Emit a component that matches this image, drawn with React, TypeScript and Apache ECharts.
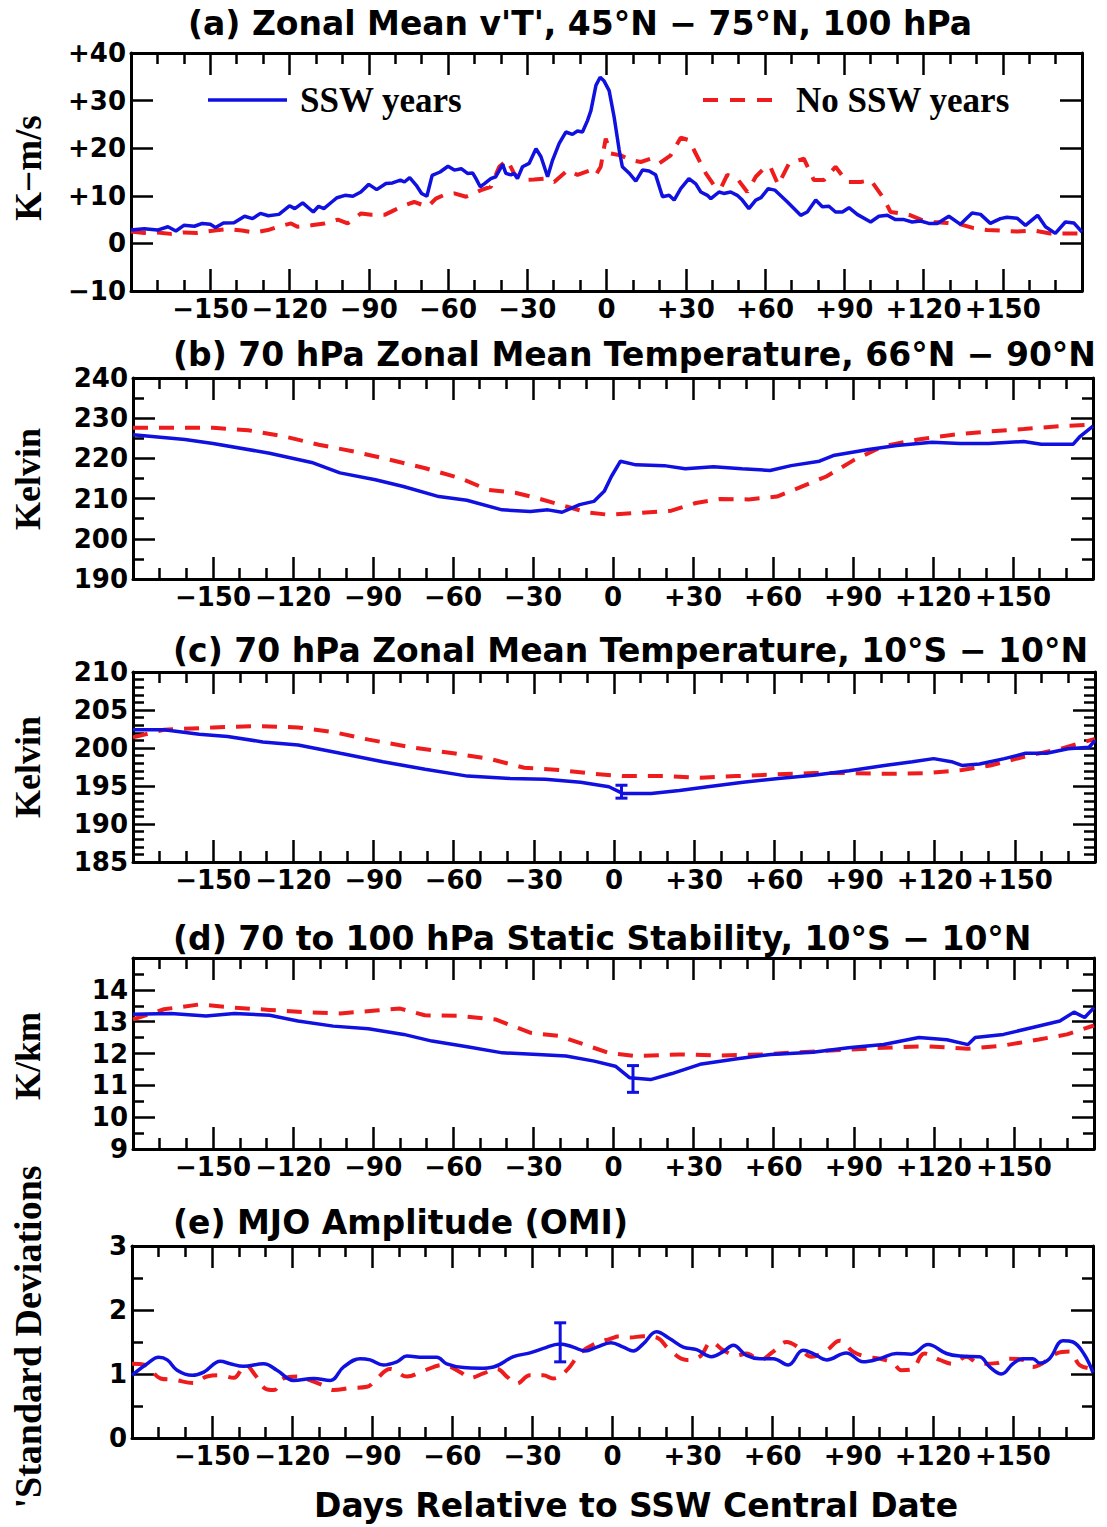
import React, { useEffect, useRef } from 'react';
import * as echarts from 'echarts';

// ---------- DATA ----------
const xTickValues = [-150, -120, -90, -60, -30, 0, 30, 60, 90, 120, 150];

const aSsw: [number, number][] = [
  [-180, 2.8], [-175, 3.1], [-170, 2.8], [-166, 3.5], [-163, 2.6], [-160, 3.8], [-156, 3.6], [-153, 4.2], [-150, 4.0],
  [-148, 3.35], [-145, 4.3], [-141, 4.35], [-137, 5.7], [-134, 5.2], [-131, 6.3], [-128, 5.8], [-124, 6.1], [-120, 7.9],
  [-118, 7.3], [-115, 8.5], [-111, 6.6], [-109, 7.8], [-107, 7.3], [-104, 8.7], [-102, 9.6], [-99, 10.1], [-96, 9.9],
  [-93, 10.8], [-90, 12.4], [-87, 11.3], [-83.5, 12.6], [-81, 12.7], [-78, 13.3], [-76.5, 12.9], [-74.5, 13.8], [-72, 12.2],
  [-70, 10.5], [-68, 9.9], [-66, 14.3], [-63, 15.0], [-60, 16.2], [-57.6, 15.4], [-55, 15.7], [-52.6, 14.7], [-50.7, 14.8],
  [-49.4, 13.6], [-47.8, 11.9], [-46.3, 12.5], [-43.8, 13.6], [-41.9, 14.0], [-39.3, 16.6], [-38.1, 14.7], [-36.2, 14.4],
  [-35, 14.7], [-33.7, 13.6], [-31.8, 16.1], [-29.3, 16.8], [-26.7, 19.9], [-24.8, 18.2], [-22.3, 14.0], [-20.4, 17.5],
  [-17.9, 21], [-15.4, 23.4], [-12.9, 22.9], [-11, 23.6], [-9.1, 23.4], [-7.2, 25.8], [-5.9, 27.9], [-4, 33.2], [-2.4, 34.9],
  [-0.9, 34.1], [1, 32.1], [2.9, 26.5], [4.8, 19.6], [6, 16.1], [8.5, 14.8], [11.1, 13.1], [13.6, 15.4], [16.1, 15.2],
  [18.6, 14.4], [21.2, 9.8], [23.7, 10.1], [25.6, 9.1], [28.1, 11.5], [31.2, 13.6], [33.8, 12.5], [35.7, 10.8], [38.2, 10.1],
  [39.5, 9.4], [42.6, 10.8], [44.4, 10.5], [47, 10.8], [49.5, 10.1], [51.4, 9.1], [53.9, 7.3], [56.5, 9.1], [58.5, 9.6],
  [61.2, 11.5], [63.7, 11.2], [68.5, 8.7], [73.5, 5.9], [76, 6.6], [79.2, 9.1], [81.7, 7.7], [84.2, 7.8], [86.7, 6.6],
  [89.3, 6.6], [91.8, 7.5], [94.9, 6.1], [100, 4.5], [103.1, 5.7], [106.3, 5.9], [109.4, 5.0], [112.6, 5.0], [115.7, 4.5],
  [118.9, 4.7], [122, 4.2], [125.2, 4.2], [129.6, 5.7], [134, 4.0], [138.4, 6.4], [141.6, 6.1], [145.3, 4.2], [149.1, 5.2],
  [151.6, 5.5], [155.4, 5.3], [158.6, 3.8], [163.2, 5.9], [166.2, 3.5], [169.9, 2.1], [173.7, 4.5], [176.9, 4.3], [180, 2.4],
];
const aNoSsw: [number, number][] = [
  [-180, 2.5], [-175, 2.2], [-170, 2.3], [-165, 2.0], [-160, 2.3], [-155, 2.2], [-148.4, 2.7], [-143.3, 3.0], [-138, 2.7],
  [-133.3, 2.3], [-128.2, 2.8], [-124.4, 3.5], [-119.4, 4.2], [-117, 3.5], [-111.8, 3.8], [-106.8, 4.2], [-101.7, 5.0],
  [-98, 4.2], [-92.9, 6.3], [-89, 6.0], [-84, 6.0], [-80.3, 7.0], [-76.5, 8.0], [-72.8, 8.7], [-67.7, 7.7], [-64.6, 9.4],
  [-61, 10.3], [-57.6, 10.5], [-53.2, 9.8], [-50.1, 10.5], [-47.5, 11.2], [-43.8, 11.9], [-40.6, 16.1], [-37.5, 17.5],
  [-35, 14.7], [-32.4, 13.3], [-27.4, 13.4], [-23.6, 13.6], [-19.8, 12.9], [-14.7, 15.4], [-11, 14.4], [-5.9, 15.4],
  [-4, 14.4], [-2.2, 16.1], [-0.3, 22.0], [1.6, 18.9], [5.4, 18.5], [9.2, 17.5], [13, 17.1], [16.8, 17.8], [19.9, 16.8],
  [24.3, 18.5], [28.1, 22.2], [31.2, 21.7], [34.4, 18.2], [37.6, 14.7], [40.7, 12.2], [43.2, 11.5], [45.7, 14.4],
  [49.5, 13.6], [53.3, 10.8], [56.5, 14.0], [60.2, 16.1], [62, 16.1], [65, 12.3], [69.1, 16.8], [74.7, 17.8], [78.5, 13.3],
  [82.3, 13.3], [86.7, 16.1], [91.1, 12.9], [96.2, 12.9], [100, 13.3], [105, 9.4], [107.5, 6.6], [111.3, 6.3], [115.1, 5.9],
  [119.5, 4.9], [123.9, 4.5], [129, 4.3], [134, 4.0], [139, 3.2], [144.1, 2.8], [149.1, 2.7], [155.4, 2.5], [161.7, 2.7],
  [168, 2.1], [174.3, 2.1], [180, 2.1],
];

const bSsw: [number, number][] = [
  [-180, 225.9], [-160.5, 224.7], [-150, 223.7], [-128.8, 221.3], [-113, 219.0], [-102.4, 216.4], [-89.1, 214.7],
  [-78.6, 213.0], [-65.3, 210.5], [-54.8, 209.6], [-41.6, 207.2], [-31, 206.8], [-24.4, 207.2], [-19.1, 206.6],
  [-12.5, 208.5], [-7.2, 209.3], [-3.3, 211.8], [-0.6, 215.5], [2.8, 219.3], [8.6, 218.4], [19.2, 218.2], [27.1, 217.4],
  [37.7, 217.9], [48.3, 217.4], [58.9, 217.0], [66.8, 218.2], [77.4, 219.3], [82.6, 220.7], [95.8, 222.2], [106.4, 223.2],
  [119.6, 224.0], [130.2, 223.7], [140.8, 223.7], [154, 224.2], [160.6, 223.5], [172.5, 223.5], [175.2, 225.5], [180, 228],
];
const bNoSsw: [number, number][] = [
  [-180, 227.6], [-150, 227.6], [-136.8, 227.0], [-123.5, 225.5], [-110.3, 223.4], [-97.1, 221.7], [-83.9, 219.7],
  [-70.7, 217.6], [-57.4, 215.1], [-46.9, 212.2], [-36.3, 211.4], [-28.4, 210.1], [-17.8, 208.1], [-9.8, 206.6],
  [-1.9, 206.0], [8.6, 206.4], [21.9, 207.0], [31.1, 208.9], [40.3, 209.9], [50.9, 209.8], [61.5, 210.5], [69.4, 212.6],
  [80, 215.5], [90.6, 219.7], [101.2, 223.0], [114.4, 224.7], [127.6, 225.9], [140.8, 226.7], [154, 227.3],
  [167.2, 228.0], [180, 228.4],
];

const cSsw: [number, number][] = [
  [-180, 202.4], [-168.4, 202.4], [-155.2, 201.8], [-144.6, 201.5], [-131.4, 200.8], [-118.2, 200.4], [-102.4, 199.3],
  [-86.5, 198.2], [-70.7, 197.2], [-54.8, 196.3], [-38.9, 196.0], [-25.7, 195.9], [-12.5, 195.5], [-1.9, 194.9],
  [3.4, 194.0], [13.9, 194.0], [24.5, 194.4], [35.1, 194.9], [48.3, 195.5], [61.5, 196.0], [74.7, 196.4], [88, 197.0],
  [101.2, 197.7], [111.7, 198.2], [119.6, 198.6], [126.3, 198.2], [130.2, 197.7], [136.8, 197.9], [146.1, 198.6],
  [154, 199.3], [161.9, 199.3], [169.9, 199.9], [177.8, 200.1], [180, 201.0],
];
const cNoSsw: [number, number][] = [
  [-180, 201.4], [-168.4, 202.4], [-150, 202.7], [-134.1, 202.9], [-118.2, 202.7], [-105, 202.1], [-91.8, 201.1],
  [-75.9, 200.1], [-60.1, 199.3], [-46.9, 198.6], [-33.6, 197.4], [-20.4, 197.1], [-7.2, 196.6], [3.4, 196.3],
  [19.2, 196.3], [32.4, 196.1], [45.7, 196.3], [58.9, 196.5], [74.7, 196.7], [88, 196.7], [103.8, 196.6], [117, 196.7],
  [130.2, 197.1], [140.8, 197.7], [154, 198.9], [167.2, 199.9], [180, 201.2],
];

const dSsw: [number, number][] = [
  [-180, 13.23], [-165.8, 13.26], [-152.6, 13.18], [-142, 13.26], [-128.8, 13.2], [-118.2, 13.02], [-105, 12.86],
  [-91.8, 12.78], [-78.6, 12.6], [-68, 12.39], [-54.8, 12.21], [-41.6, 12.02], [-28.4, 11.97], [-17.8, 11.92],
  [-7.2, 11.76], [0.7, 11.6], [6, 11.24], [13.9, 11.18], [21.9, 11.37], [32.4, 11.66], [45.7, 11.83], [58.9, 11.97],
  [74.7, 12.04], [88, 12.18], [101.2, 12.28], [114.4, 12.5], [124.9, 12.43], [132.8, 12.28], [135.5, 12.5],
  [146.1, 12.6], [156.6, 12.81], [167.2, 13.02], [172.5, 13.3], [176.5, 13.13], [180, 13.44],
];
const dNoSsw: [number, number][] = [
  [-180, 13.07], [-168.4, 13.39], [-155.2, 13.54], [-142, 13.44], [-128.8, 13.37], [-115.6, 13.3], [-102.4, 13.26],
  [-89.1, 13.35], [-79.9, 13.41], [-70.7, 13.2], [-57.4, 13.18], [-44.2, 13.07], [-31, 12.65], [-20.4, 12.55],
  [-9.8, 12.25], [-1.9, 12.02], [8.6, 11.92], [24.5, 11.97], [40.3, 11.94], [56.2, 11.97], [69.4, 12.04], [85.3, 12.11],
  [101.2, 12.18], [117, 12.23], [132.8, 12.15], [146.1, 12.25], [159.3, 12.44], [169.9, 12.6], [180, 12.88],
];

const eSsw: [number, number][] = [
  [-180, 0.98], [-174.3, 1.16], [-170, 1.26], [-166.8, 1.22], [-163.1, 1.06], [-157.5, 0.98], [-153.1, 1.03],
  [-146.9, 1.2], [-143.2, 1.16], [-138.2, 1.12], [-130.7, 1.16], [-125.7, 1.06], [-119.5, 0.9], [-112, 0.93],
  [-105.7, 0.9], [-100.7, 1.11], [-94.5, 1.24], [-90.8, 1.22], [-85.8, 1.14], [-80.8, 1.19], [-77, 1.28], [-70.8, 1.26],
  [-65.8, 1.26], [-62.1, 1.16], [-55.8, 1.1], [-49.6, 1.09], [-44.6, 1.11], [-37.1, 1.27], [-30.9, 1.33], [-25.9, 1.4],
  [-19.6, 1.47], [-14.7, 1.42], [-10.3, 1.36], [-5.9, 1.42], [-0.6, 1.49], [4.1, 1.42], [7.8, 1.36], [11.5, 1.47],
  [16.5, 1.66], [21.5, 1.55], [26.5, 1.42], [31.5, 1.38], [37.1, 1.27], [41.5, 1.35], [45.2, 1.45], [50.2, 1.29],
  [55.2, 1.24], [60.2, 1.24], [65.8, 1.14], [71.4, 1.37], [75.2, 1.32], [80.2, 1.22], [87.6, 1.33], [93.9, 1.19],
  [100.1, 1.24], [106.4, 1.32], [112, 1.31], [118.2, 1.46], [125.1, 1.32], [130.1, 1.28], [137.5, 1.27], [141.3, 1.11],
  [145.7, 1.0], [150, 1.16], [153.7, 1.24], [157.5, 1.24], [160, 1.17], [163.7, 1.24], [168.7, 1.52], [172.5, 1.5],
  [176.8, 1.3], [180, 1.02],
];
const eNoSsw: [number, number][] = [
  [-180, 1.16], [-175, 1.14], [-169.3, 0.93], [-164.3, 0.91], [-156.9, 0.86], [-151.9, 0.96], [-146.9, 0.98],
  [-141.9, 0.94], [-137.5, 1.14], [-133.8, 0.98], [-130, 0.77], [-126.9, 0.75], [-123.2, 0.93], [-118.2, 0.96],
  [-113.2, 0.9], [-108.2, 0.82], [-104.5, 0.75], [-98.2, 0.78], [-92, 0.8], [-88.2, 0.93], [-83.3, 1.08], [-77, 0.96],
  [-70.8, 1.05], [-63.3, 1.14], [-57.1, 1.03], [-53.3, 0.94], [-48.4, 1.01], [-43.3, 1.08], [-39.6, 0.96], [-35.9, 0.85],
  [-30.9, 0.98], [-25.9, 0.98], [-22.2, 0.93], [-17.1, 1.06], [-12.2, 1.32], [-7.2, 1.46], [-0.9, 1.55], [2.8, 1.59],
  [6.5, 1.57], [11.5, 1.59], [16.5, 1.57], [21.5, 1.37], [27.8, 1.22], [32.7, 1.27], [37.1, 1.5], [41.5, 1.37],
  [46.5, 1.29], [50.2, 1.32], [55.2, 1.22], [60.2, 1.35], [65.2, 1.5], [70.2, 1.4], [74.5, 1.27], [80.2, 1.37],
  [85.1, 1.52], [90.1, 1.35], [95.1, 1.27], [100.1, 1.24], [105.1, 1.17], [108.2, 1.06], [112, 1.07], [116.9, 1.32],
  [122.6, 1.22], [127.5, 1.16], [132.6, 1.27], [137.5, 1.16], [143.8, 1.17], [148.7, 1.24], [153.7, 1.22], [157.5, 1.11],
  [161.2, 1.17], [166.2, 1.32], [171.2, 1.35], [175, 1.14], [180, 1.08],
];

// error bars: [day, low, high]
const cErr: [number, number, number][] = [[2.8, 193.4, 195.1]];
const dErr: [number, number, number][] = [[7.3, 10.78, 11.62]];
const eErr: [number, number, number][] = [[-19.6, 1.19, 1.8]];

const titles = [
  "(a) Zonal Mean v'T', 45°N − 75°N, 100 hPa",
  '(b) 70 hPa Zonal Mean Temperature, 66°N − 90°N',
  '(c) 70 hPa Zonal Mean Temperature, 10°S − 10°N',
  '(d) 70 to 100 hPa Static Stability, 10°S − 10°N',
  '(e) MJO Amplitude (OMI)',
];
const yNames = ['K−m/s', 'Kelvin', 'Kelvin', 'K/km', "'Standard Deviations"];
const xName = 'Days Relative to SSW Central Date';
const legendNames = ['SSW years', 'No SSW years'];

// ---------- LAYOUT / STYLE ----------
const BLUE = '#1010e0';
const RED = '#ee1c1c';
const TITLE_FONT = 'bold 33px "DejaVu Sans"';
const TICK_FONT_FAMILY = 'DejaVu Sans';

const panels = [
  { grid: { left: 131, top: 53, width: 951, height: 238 }, y: { min: -10, max: 40, interval: 10, minor: 0 },
    ssw: aSsw, no: aNoSsw, err: null as any, smooth: false, titleX: 188, titleY: 23, nameY: 168, nameSize: 37, signed: true, hideMax: false },
  { grid: { left: 133, top: 378, width: 960, height: 201 }, y: { min: 190, max: 240, interval: 10, minor: 2 },
    ssw: bSsw, no: bNoSsw, err: null as any, smooth: false, titleX: 173, titleY: 354, nameY: 479, nameSize: 36, signed: false, hideMax: false },
  { grid: { left: 133, top: 672, width: 962, height: 190 }, y: { min: 185, max: 210, interval: 5, minor: 5 },
    ssw: cSsw, no: cNoSsw, err: cErr, smooth: false, titleX: 173, titleY: 650, nameY: 767, nameSize: 36, signed: false, hideMax: false },
  { grid: { left: 133, top: 958, width: 961, height: 191 }, y: { min: 9, max: 15, interval: 1, minor: 2 },
    ssw: dSsw, no: dNoSsw, err: dErr, smooth: false, titleX: 173, titleY: 938, nameY: 1056, nameSize: 36, signed: false, hideMax: true },
  { grid: { left: 132, top: 1246, width: 961, height: 192 }, y: { min: 0, max: 3, interval: 1, minor: 2 },
    ssw: eSsw, no: eNoSsw, err: eErr, smooth: 0.4, titleX: 173, titleY: 1222, nameY: 1337, nameSize: 38, signed: false, hideMax: false },
];

const fmtSigned = (v: number) => (v > 0 ? '+' + v : v < 0 ? '−' + -v : '0');

function buildOption() {
  const grid: any[] = [];
  const xAxis: any[] = [];
  const yAxis: any[] = [];
  const series: any[] = [];
  const graphic: any[] = [];
  const axisLine = { show: true, onZero: false, lineStyle: { color: '#000', width: 3 } };
  const tickStyle = { color: '#000', width: 2.5 };

  panels.forEach((p, i) => {
    grid.push({ ...p.grid, containLabel: false });
    const xBase = {
      type: 'value', gridIndex: i, min: -180, max: 180, interval: 30,
      axisLine, splitLine: { show: false },
      axisTick: { show: true, inside: true, length: 22, lineStyle: tickStyle },
      minorTick: { show: true, splitNumber: 3, length: 11, lineStyle: tickStyle },
    };
    xAxis.push({
      ...xBase, position: 'bottom',
      axisLabel: {
        show: true, margin: 5, color: '#000', fontFamily: TICK_FONT_FAMILY, fontWeight: 'bold', fontSize: 26,
        showMinLabel: false, showMaxLabel: false,
        formatter: (v: number) => (xTickValues.includes(v) ? fmtSigned(v) : ''),
      },
    });
    xAxis.push({ ...xBase, position: 'top', axisLabel: { show: false } });
    const yBase = {
      type: 'value', gridIndex: i, min: p.y.min, max: p.y.max, interval: p.y.interval,
      axisLine, splitLine: { show: false },
      axisTick: { show: true, inside: true, length: 22, lineStyle: tickStyle },
      minorTick: { show: p.y.minor > 0, splitNumber: p.y.minor || 1, length: 11, lineStyle: tickStyle },
    };
    yAxis.push({
      ...yBase, position: 'left',
      axisLabel: {
        show: true, margin: 5, color: '#000', fontFamily: TICK_FONT_FAMILY, fontWeight: 'bold', fontSize: 26,
        formatter: (v: number) => (p.hideMax && v === p.y.max ? '' : p.signed ? fmtSigned(v) : String(v)),
      },
    });
    yAxis.push({ ...yBase, position: 'right', axisLabel: { show: false } });

    series.push({
      type: 'line', name: legendNames[0], xAxisIndex: 2 * i, yAxisIndex: 2 * i, data: p.ssw,
      showSymbol: false, smooth: p.smooth, clip: true,
      lineStyle: { color: BLUE, width: 3.5 }, z: 3,
    });
    series.push({
      type: 'line', name: legendNames[1], xAxisIndex: 2 * i, yAxisIndex: 2 * i, data: p.no,
      showSymbol: false, smooth: p.smooth, clip: true,
      lineStyle: { color: RED, width: 4, type: [15, 11] }, z: 2,
    });
    if (p.err) {
      series.push({
        type: 'custom', xAxisIndex: 2 * i, yAxisIndex: 2 * i, data: p.err, z: 4,
        encode: { x: 0, y: [1, 2] },
        renderItem: (_params: any, api: any) => {
          const x = api.value(0);
          const lo = api.coord([x, api.value(1)]);
          const hi = api.coord([x, api.value(2)]);
          const st = { stroke: BLUE, lineWidth: 3 };
          return {
            type: 'group',
            children: [
              { type: 'line', shape: { x1: lo[0], y1: lo[1], x2: hi[0], y2: hi[1] }, style: st },
              { type: 'line', shape: { x1: lo[0] - 6, y1: lo[1], x2: lo[0] + 6, y2: lo[1] }, style: st },
              { type: 'line', shape: { x1: hi[0] - 6, y1: hi[1], x2: hi[0] + 6, y2: hi[1] }, style: st },
            ],
          };
        },
      });
    }

    graphic.push({
      type: 'text', x: p.titleX, y: p.titleY,
      style: { text: titles[i], font: TITLE_FONT, fill: '#000', textAlign: 'left', textVerticalAlign: 'middle', align: 'left', verticalAlign: 'middle' },
    });
    graphic.push({
      type: 'text', x: 28, y: p.nameY, rotation: Math.PI / 2,
      style: { text: yNames[i], font: `bold ${p.nameSize}px "Liberation Serif"`, fill: '#000', textAlign: 'center', textVerticalAlign: 'middle', align: 'center', verticalAlign: 'middle' },
    });
  });

  graphic.push({
    type: 'text', x: 636, y: 1505,
    style: { text: xName, font: TITLE_FONT, fill: '#000', textAlign: 'center', textVerticalAlign: 'middle', align: 'center', verticalAlign: 'middle' },
  });
  // legend in panel (a)
  graphic.push({ type: 'line', shape: { x1: 208, y1: 100, x2: 287, y2: 100 }, style: { stroke: BLUE, lineWidth: 3.5 } });
  graphic.push({
    type: 'text', x: 300, y: 100,
    style: { text: legendNames[0], font: 'bold 35px "Liberation Serif"', fill: '#000', textAlign: 'left', textVerticalAlign: 'middle', align: 'left', verticalAlign: 'middle' },
  });
  graphic.push({ type: 'line', shape: { x1: 703, y1: 100, x2: 772, y2: 100 }, style: { stroke: RED, lineWidth: 4, lineDash: [15, 12] } });
  graphic.push({
    type: 'text', x: 796, y: 100,
    style: { text: legendNames[1], font: 'bold 35px "Liberation Serif"', fill: '#000', textAlign: 'left', textVerticalAlign: 'middle', align: 'left', verticalAlign: 'middle' },
  });

  return { animation: false, backgroundColor: '#fff', grid, xAxis, yAxis, series, graphic };
}

export default function App() {
  const ref = useRef<HTMLDivElement>(null);
  useEffect(() => {
    document.body.style.margin = '0';
    if (!ref.current) return;
    const chart = echarts.init(ref.current, undefined, { renderer: 'svg' });
    chart.setOption(buildOption() as any);
    return () => chart.dispose();
  }, []);
  return <div ref={ref} style={{ position: 'absolute', left: 0, top: 0, width: 1107, height: 1527 }} />;
}
